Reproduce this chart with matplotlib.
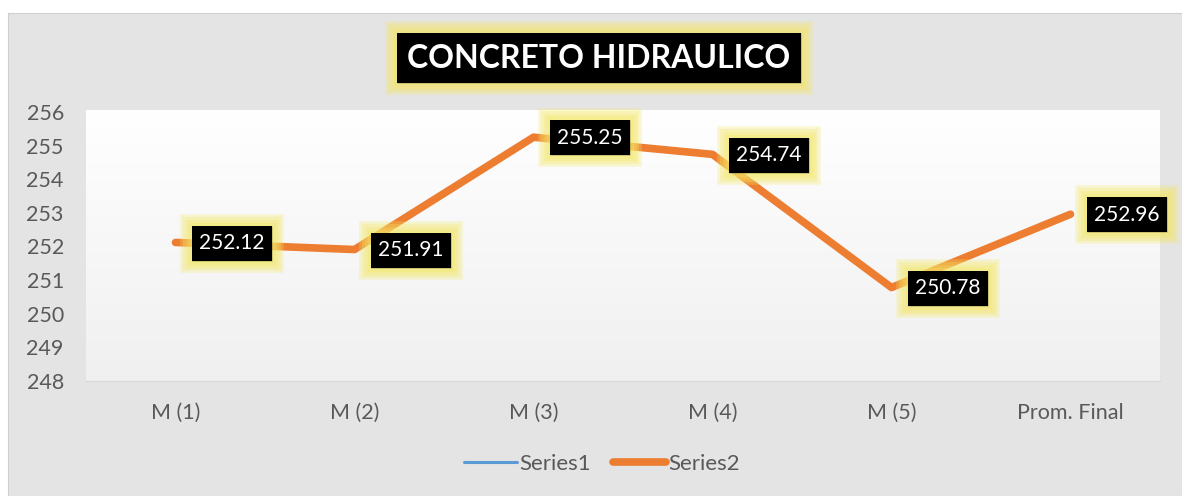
import matplotlib
matplotlib.use("Agg")
import matplotlib.pyplot as plt
import matplotlib.patheffects as pe
from matplotlib.lines import Line2D
import numpy as np

categories = ["M (1)", "M (2)", "M (3)", "M (4)", "M (5)", "Prom. Final"]
series2 = [252.12, 251.91, 255.25, 254.74, 250.78, 252.96]
series1 = []
yticks = [248, 249, 250, 251, 252, 253, 254, 255, 256]
title = "CONCRETO HIDRAULICO"

W, H = 1182, 496
fig = plt.figure(figsize=(W / 100, H / 100), dpi=100)
fig.patch.set_facecolor("white")

# chart area background
bg = fig.add_axes([8 / W, 0, 1 - 8 / W, (H - 13) / H], zorder=-10)
bg.set_xticks([]); bg.set_yticks([])
bg.set_facecolor("#e4e4e4")
for s in bg.spines.values():
    s.set_color("#cfcfcf")

left, right, top, bottom = 86, 1160, 112, 381
ax = fig.add_axes([left / W, (H - bottom) / H, (right - left) / W, (bottom - top) / H], zorder=1)
ax.set_facecolor("none")
ax.set_xlim(-0.5, len(categories) - 0.5)

# gradient plot area
grad = np.linspace(1.0, 0.94, 256).reshape(-1, 1)
ax.imshow(np.dstack([grad, grad, grad]), extent=(-0.5, len(categories) - 0.5, 248, 256.03),
          aspect="auto", zorder=0, clip_on=False)
ax.set_ylim(248, 256)

for s in ax.spines.values():
    s.set_visible(False)
ax.plot([-0.5, len(categories) - 0.5], [248, 248], color="#d9d9d9", lw=1, zorder=1, clip_on=False)

x = np.arange(len(categories))
ax.plot(x, series1, color="#5B9BD5", lw=2.2, label="Series1") if len(series1) else None
ax.plot(x, series2, color="#ED7D31", lw=5.5, solid_capstyle="round", solid_joinstyle="round",
        zorder=3, label="Series2")

ax.set_xticks(x)
ax.set_xticklabels(categories)
ax.set_yticks(yticks)
ax.tick_params(length=0, labelsize=15.5, labelcolor="#595959")
ax.tick_params(axis="y", pad=16)
ax.tick_params(axis="x", pad=16)
for lab in ax.get_xticklabels() + ax.get_yticklabels():
    lab.set_fontfamily("Lato")

glow = [pe.withStroke(linewidth=w, foreground="#f3e766", alpha=0.28) for w in (17, 13, 9, 5)]
glow.append(pe.Normal())

for xi, v in zip(x, series2):
    t = ax.annotate(f"{v:.2f}", (xi, v), xytext=(17, -0.5), textcoords="offset points",
                    ha="left", va="center", color="white", fontsize=15, family="Lato",
                    zorder=5, annotation_clip=False,
                    bbox=dict(boxstyle="square,pad=0.36", facecolor="black", edgecolor="none"))
    t.get_bbox_patch().set_path_effects(glow)

tt = fig.text(599 / W, (H - 58) / H, title, ha="center", va="center", color="white",
              fontsize=23, fontweight="bold", family="Lato", zorder=5,
              bbox=dict(boxstyle="square,pad=0.33", facecolor="black", edgecolor="none"))
tt.get_bbox_patch().set_path_effects(glow)

handles = [Line2D([], [], color="#5B9BD5", lw=2.2, solid_capstyle="round"),
           Line2D([], [], color="#ED7D31", lw=5.5, solid_capstyle="round")]
leg = fig.legend(handles, ["Series1", "Series2"], loc="center", bbox_to_anchor=(602 / W, (H - 464) / H),
                 ncol=2, frameon=False, handlelength=2.4, handletextpad=0.1, columnspacing=1.0,
                 prop={"family": "Lato", "size": 16})
for txt in leg.get_texts():
    txt.set_color("#595959")

fig.savefig("out.png", dpi=100)
